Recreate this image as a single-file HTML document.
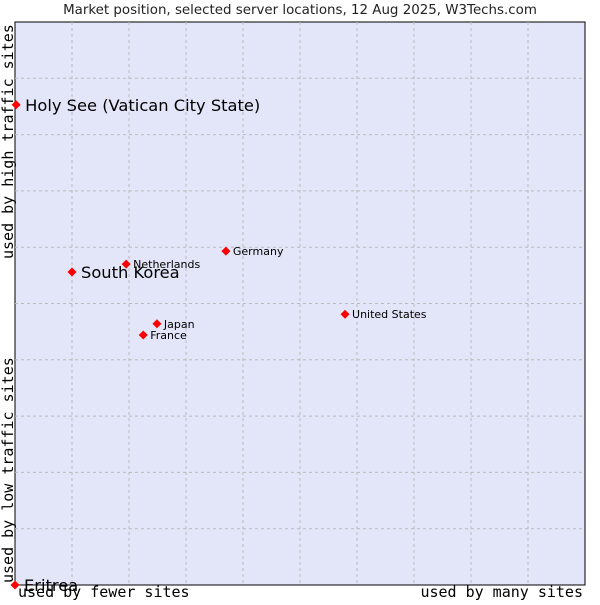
<!DOCTYPE html>
<html><head><meta charset="utf-8"><style>
body{margin:0;background:#fff;width:600px;height:600px;overflow:hidden}
svg text{font-family:"DejaVu Sans","Liberation Sans",sans-serif}
.mono{font-family:"DejaVu Sans Mono","Liberation Mono",monospace}
</style></head><body>
<svg id="chart" width="600" height="600" viewBox="0 0 600 600">
<text x="300" y="14" text-anchor="middle" font-size="13.4" fill="#222">Market position, selected server locations, 12 Aug 2025, W3Techs.com</text>
<rect x="15" y="22" width="570" height="563" fill="#e3e5f8" stroke="#000" stroke-width="1"/>
<g id="grid"></g>
<text class="mono" x="18" y="597" font-size="15" fill="#000">used by fewer sites</text>
<text class="mono" x="583" y="597" font-size="15" text-anchor="end" fill="#000">used by many sites</text>
<text class="mono" transform="translate(13,583) rotate(-90)" font-size="15" fill="#000">used by low traffic sites</text>
<text class="mono" transform="translate(13,259) rotate(-90)" font-size="15" fill="#000">used by high traffic sites</text>
<g id="points"></g>
</svg>
<script>
const names=["Holy See (Vatican City State)","South Korea","Netherlands","Germany","United States","Japan","France","Eritrea"];
const xVals=[0.2,10,19.5,37,57.9,24.9,22.5,0];
const yVals=[85.3,55.6,57,59.3,48.1,46.4,44.4,0];
const bigLabel=[true,true,false,false,false,false,false,true];
const L=15,R=585,T=22,B=585;
const sx=v=>L+v/100*(R-L), sy=v=>B-v/100*(B-T);
const ns="http://www.w3.org/2000/svg";
const grid=document.getElementById('grid');
for(let i=1;i<10;i++){
  const v=document.createElementNS(ns,'line');
  
  
  v.setAttribute('x1',sx(i*10));v.setAttribute('x2',sx(i*10));v.setAttribute('y1',T);v.setAttribute('y2',B);
  v.setAttribute('stroke','#bbb');v.setAttribute('stroke-dasharray','3,3');grid.appendChild(v);
  const h=document.createElementNS(ns,'line');
  
  
  h.setAttribute('y1',sy(i*10));h.setAttribute('y2',sy(i*10));h.setAttribute('x1',L);h.setAttribute('x2',R);
  h.setAttribute('stroke','#bbb');h.setAttribute('stroke-dasharray','3,3');grid.appendChild(h);
}
const pts=document.getElementById('points');
names.forEach((n,i)=>{
  const x=sx(xVals[i]),y=sy(yVals[i]);
  const p=document.createElementNS(ns,'polygon');
  
  
  p.setAttribute('points',`${x},${y-4.5} ${x+4.5},${y} ${x},${y+4.5} ${x-4.5},${y}`);
  p.setAttribute('fill','#f00');pts.appendChild(p);
  const t=document.createElementNS(ns,'text');
  
  
  t.setAttribute('x',x+(bigLabel[i]?9:7));t.setAttribute('y',y+(bigLabel[i]?6:4));
  t.setAttribute('font-size',bigLabel[i]?16.3:11);t.setAttribute('fill','#000');
  t.textContent=n;pts.appendChild(t);
});
</script>
</body></html>
